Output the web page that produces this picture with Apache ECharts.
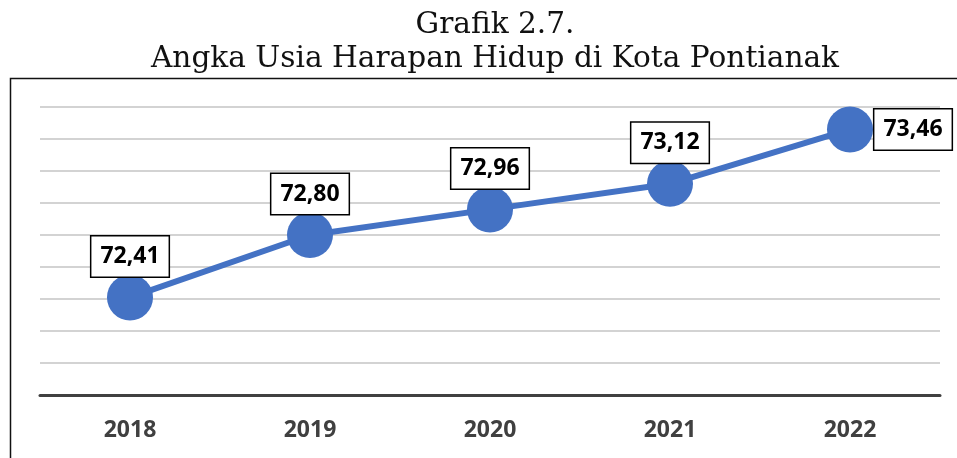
<!DOCTYPE html>
<html>
<head>
<meta charset="utf-8">
<script src="https://cdn.jsdelivr.net/npm/echarts@6/dist/echarts.min.js"></script>
<style>
  html, body { margin: 0; padding: 0; background: #fff; }
  #chart { width: 957px; height: 458px; }
</style>
</head>
<body>
<div id="chart"></div>
<script>
const years = ['2018', '2019', '2020', '2021', '2022']
const ahh = [72.41, 72.80, 72.96, 73.12, 73.46]
const titleLines = ['Grafik 2.7.', 'Angka Usia Harapan Hidup di Kota Pontianak']

const chart = echarts.init(document.getElementById('chart'))

chart.setOption({
  animation: false,
  backgroundColor: '#fff',
  title: {
    text: titleLines.join('\n'),
    left: 490,
    textAlign: 'center',
    top: 3,
    textStyle: {
      fontFamily: 'DejaVu Serif',
      fontWeight: 'normal',
      fontSize: 29.6,
      lineHeight: 34,
      color: '#111'
    }
  },
  graphic: [
    {
      type: 'rect',
      shape: { x: 10.5, y: 78.5, width: 1000, height: 500 },
      style: { fill: 'none', stroke: '#111', lineWidth: 1.5 },
      z: -1
    }
  ],
  grid: { left: 40, right: 17, top: 107, bottom: 63 },
  xAxis: {
    type: 'category',
    data: years,
    boundaryGap: true,
    axisLine: { lineStyle: { color: '#404040', width: 3 } },
    axisTick: { show: false },
    axisLabel: {
      margin: 24,
      fontFamily: 'Open Sans',
      fontWeight: 'bold',
      fontSize: 23,
      color: '#404040'
    }
  },
  yAxis: {
    type: 'value',
    min: 71.8,
    max: 73.6,
    interval: 0.2,
    axisLine: { show: false },
    axisTick: { show: false },
    axisLabel: { show: false },
    splitLine: { lineStyle: { color: '#c4c4c4', width: 1.5 } }
  },
  series: [
    {
      type: 'line',
      data: ahh,
      symbol: 'circle',
      symbolSize: 46,
      itemStyle: { color: '#4472C4' },
      lineStyle: { color: '#4472C4', width: 6 },
      label: {
        show: true,
        position: 'inside',
        formatter: p => p.value.toFixed(2).replace('.', ','),
        fontFamily: 'Open Sans',
        fontWeight: 'bold',
        fontSize: 23,
        color: '#000',
        backgroundColor: '#fff',
        borderColor: '#000',
        borderWidth: 1.5,
        padding: [9, 9, 8, 9]
      },
      labelLine: { show: true, lineStyle: { color: '#888', width: 1.5 } },
      labelLayout: p => (p.dataIndex === years.length - 1 ? { dx: 63, dy: 0 } : { dx: 0, dy: -41 })
    }
  ]
})
</script>
</body>
</html>
